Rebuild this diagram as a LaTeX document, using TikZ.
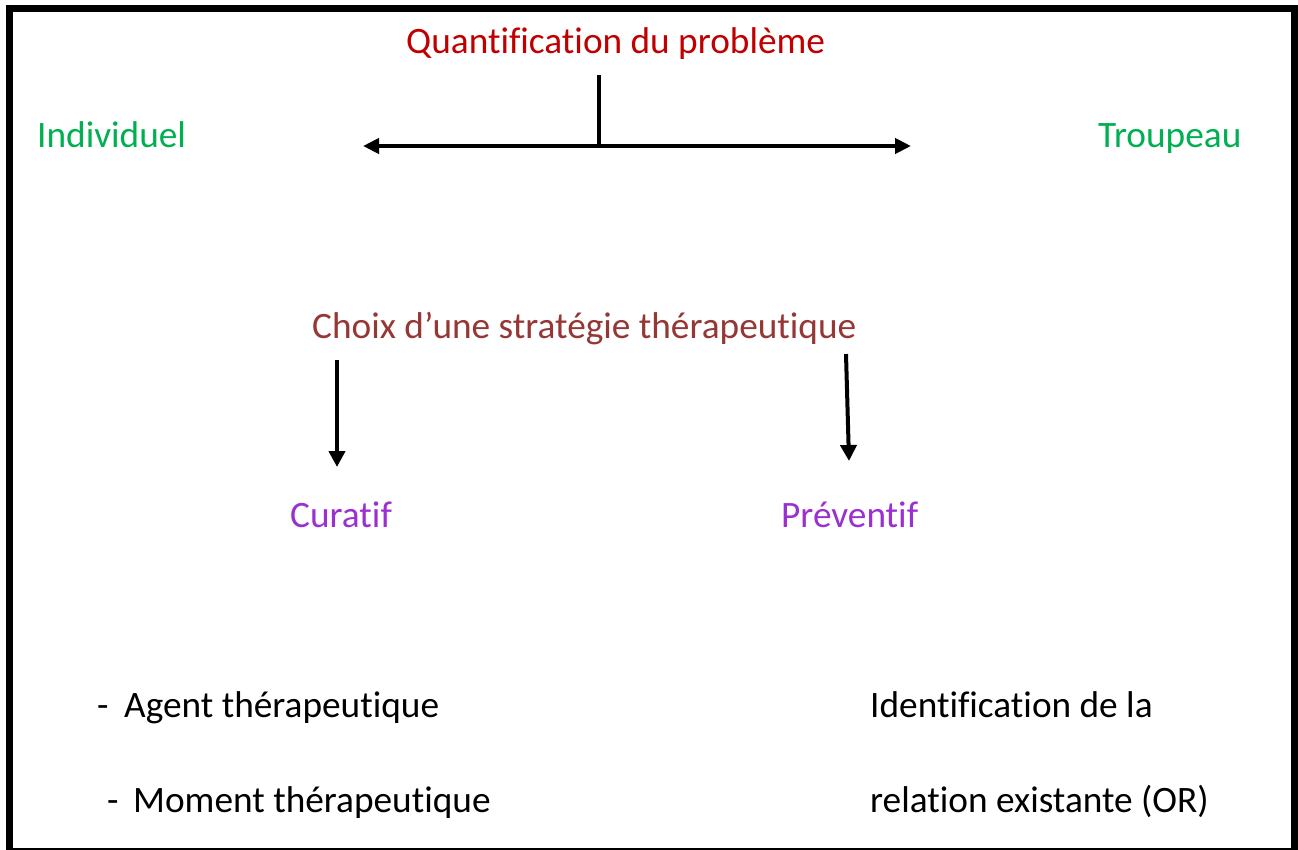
\documentclass[tikz,border=0pt]{standalone}
\usepackage{fontspec}
\setmainfont{Carlito}[Ligatures={NoCommon}]
\usetikzlibrary{arrows.meta}
\definecolor{qred}{HTML}{C00000}
\definecolor{cgreen}{HTML}{00B050}
\definecolor{cbrown}{HTML}{953735}
\definecolor{cpurple}{HTML}{9B30D0}
\tikzset{
  lbl/.style={anchor=base west, inner sep=0pt, font=\fontsize{37.3}{44}\selectfont},
  arr/.style={line width=4pt, -{Triangle[length=16pt,width=16pt]}},
  darr/.style={line width=4pt, {Triangle[length=16pt,width=15pt]}-{Triangle[length=16pt,width=15pt]}},
}
\begin{document}
\begin{tikzpicture}[x=1pt,y=-1pt]
\useasboundingbox (0,0) rectangle (1298,849);
\draw[line width=7pt] (9.5,8.8) rectangle (1294,851);
% texts
\node[lbl, text=qred] (quant) at (406,53) {Quantification du problème};
\node[lbl, text=cgreen] (indiv) at (37,147) {Individuel};
\node[lbl, text=cgreen] (troup) at (1098,147) {Troupeau};
\node[lbl, text=cbrown] (choix) at (312,338) {Choix d’une stratégie thérapeutique};
\node[lbl, text=cpurple] (curat) at (290,527) {Curatif};
\node[lbl, text=cpurple] (prev) at (781,527) {Préventif};
\node[lbl] (agent) at (97,717) {\makebox[27pt][l]{-}Agent thérapeutique};
\node[lbl] (moment) at (107,812) {\makebox[26pt][l]{-}Moment thérapeutique};
\node[lbl] (ident) at (870,717) {Identification de la};
\node[lbl] (relat) at (870,812) {relation existante (OR)};
% connectors
\coordinate (stemtop) at (599,75);
\coordinate (stembot) at (599,146);
\coordinate (hl) at (363,146);
\coordinate (hr) at (911,146);
\draw[line width=4pt] (stemtop) -- (stembot);
\draw[darr] (hl) -- (hr);
\coordinate (cl1) at (337,360);
\coordinate (cl2) at (337,467);
\coordinate (cr1) at (846,354);
\coordinate (cr2) at (849,461);
\draw[arr] (cl1) -- (cl2);
\draw[arr] (cr1) -- (cr2);
\end{tikzpicture}
\end{document}
